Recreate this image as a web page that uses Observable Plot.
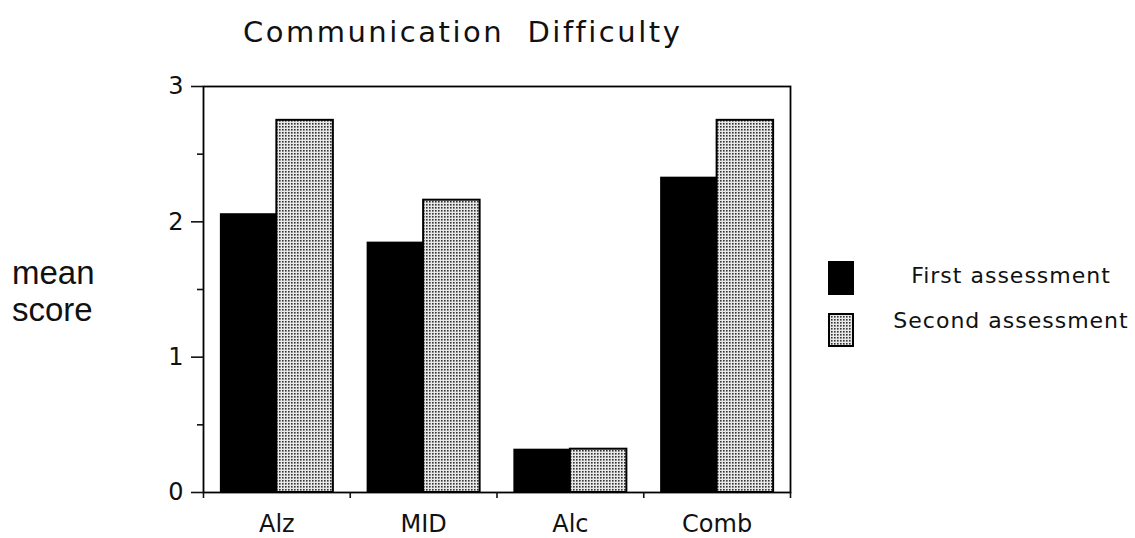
<!DOCTYPE html>
<html>
<head>
<meta charset="utf-8">
<script src="https://cdn.jsdelivr.net/npm/d3@7"></script>
<script src="https://cdn.jsdelivr.net/npm/@observablehq/plot@0.6"></script>
<style>
  body { margin: 0; background: #fff; }
  #wrap { position: relative; width: 1135px; height: 538px; overflow: hidden; font-family: "DejaVu Sans", sans-serif; color: #111; }
  #chart { position: absolute; left: 0; top: 0; }
  .title { position: absolute; left: 243px; top: 15px; font-size: 29px; letter-spacing: 2.5px; white-space: nowrap; }
  .ylab { position: absolute; left: 12px; top: 254px; font-family: "Liberation Sans", sans-serif; font-size: 33px; line-height: 37px; }
  .legend-row { position: absolute; left: 828px; display: flex; align-items: center; }
  .legend-text { position: absolute; left: 1011px; transform: translateX(-50%); font-size: 22px; letter-spacing: 1px; white-space: nowrap; }
</style>
</head>
<body>
<div id="wrap">
  <div id="chart"></div>
  <div class="title" id="title"></div>
  <div class="ylab" id="ylab"></div>
  <div id="legend"></div>
</div>
<script>
// ---- data ----
const titleText = "Communication\u00a0\u00a0Difficulty";
const yLabelLines = ["mean", "score"];
const categories = ["Alz", "MID", "Alc", "Comb"];
const seriesNames = ["First assessment", "Second assessment"];
const firstAssessment = [2.06, 1.85, 0.32, 2.33];
const secondAssessment = [2.75, 2.16, 0.32, 2.75];
const yMajorTicks = [0, 1, 2, 3];
const yMinorTicks = [0.5, 1.5, 2.5];

// ---- build table ----
const seriesValues = [firstAssessment, secondAssessment];
const groupPad = 0.115;               // unused fraction on each side of a category band
const barW = (1 - 2 * groupPad) / seriesNames.length;
const rows = categories.flatMap((c, i) =>
  seriesNames.map((s, j) => ({
    category: c, series: s, value: seriesValues[j][i],
    x1: i + groupPad + j * barW, x2: i + groupPad + (j + 1) * barW
  }))
);

const chart = Plot.plot({
  width: 1135,
  height: 538,
  marginLeft: 203,
  marginRight: 345,
  marginTop: 86,
  marginBottom: 46,
  style: { fontFamily: "DejaVu Sans, sans-serif", color: "#111", background: "transparent" },
  x: { type: "linear", domain: [0, categories.length], axis: null },
  y: { domain: [0, 3], axis: null },
  marks: [
    Plot.rectY(rows.filter(d => d.series === seriesNames[0]), { x1: "x1", x2: "x2", y: "value", fill: "#000" }),
    Plot.rectY(rows.filter(d => d.series === seriesNames[1]), { x1: "x1", x2: "x2", y: "value", fill: "url(#dots)", stroke: "#000", strokeWidth: 2 }),
    Plot.frame({ stroke: "#000", strokeWidth: 1.8 }),
    Plot.axisY({ ticks: yMajorTicks, tickSize: 12, tickPadding: 8, fontSize: 24, tickFormat: d3.format("d"), strokeWidth: 1.6, label: null }),
    Plot.axisY({ ticks: yMinorTicks, tickSize: 6, tickFormat: () => "", strokeWidth: 1.6, label: null }),
    Plot.axisX({ ticks: d3.range(0, categories.length + 1), tickSize: 6, tickFormat: () => "", strokeWidth: 1.6, label: null }),
    Plot.axisX({ ticks: categories.map((c, i) => i + 0.5), tickFormat: v => categories[Math.floor(v)], tickSize: 0, tickPadding: 22, fontSize: 24, label: null })
  ]
});

// dotted fill pattern
const svg = d3.select(chart);
const defs = svg.insert("defs", ":first-child");
const pat = defs.append("pattern").attr("id", "dots").attr("width", 3).attr("height", 3).attr("patternUnits", "userSpaceOnUse");
pat.append("rect").attr("width", 3).attr("height", 3).attr("fill", "#e8e8e8");
pat.append("rect").attr("width", 1.6).attr("height", 1.6).attr("fill", "#333");

document.getElementById("chart").appendChild(chart);

document.getElementById("title").textContent = titleText;
document.getElementById("ylab").innerHTML = yLabelLines.join("<br>");

// legend
const legend = document.getElementById("legend");
const swatchTops = [261, 313];
const textCenters = [277, 322];
seriesNames.forEach((name, j) => {
  const row = document.createElement("div");
  row.className = "legend-row";
  row.style.top = swatchTops[j] + "px";
  const sw = d3.create("svg").attr("width", 26).attr("height", 34);
  if (j === 0) {
    sw.append("rect").attr("width", 26).attr("height", 34).attr("fill", "#000");
  } else {
    const d = sw.append("defs").append("pattern").attr("id", "dotsLegend").attr("width", 3).attr("height", 3).attr("patternUnits", "userSpaceOnUse");
    d.append("rect").attr("width", 3).attr("height", 3).attr("fill", "#e8e8e8");
    d.append("rect").attr("width", 1.6).attr("height", 1.6).attr("fill", "#333");
    sw.append("rect").attr("x", 1).attr("y", 1).attr("width", 24).attr("height", 32).attr("fill", "url(#dotsLegend)").attr("stroke", "#000").attr("stroke-width", 2);
  }
  row.appendChild(sw.node());
  legend.appendChild(row);
  const t = document.createElement("div");
  t.className = "legend-text";
  t.textContent = name;
  t.style.top = (textCenters[j] - 14) + "px";
  legend.appendChild(t);
});
</script>
</body>
</html>
